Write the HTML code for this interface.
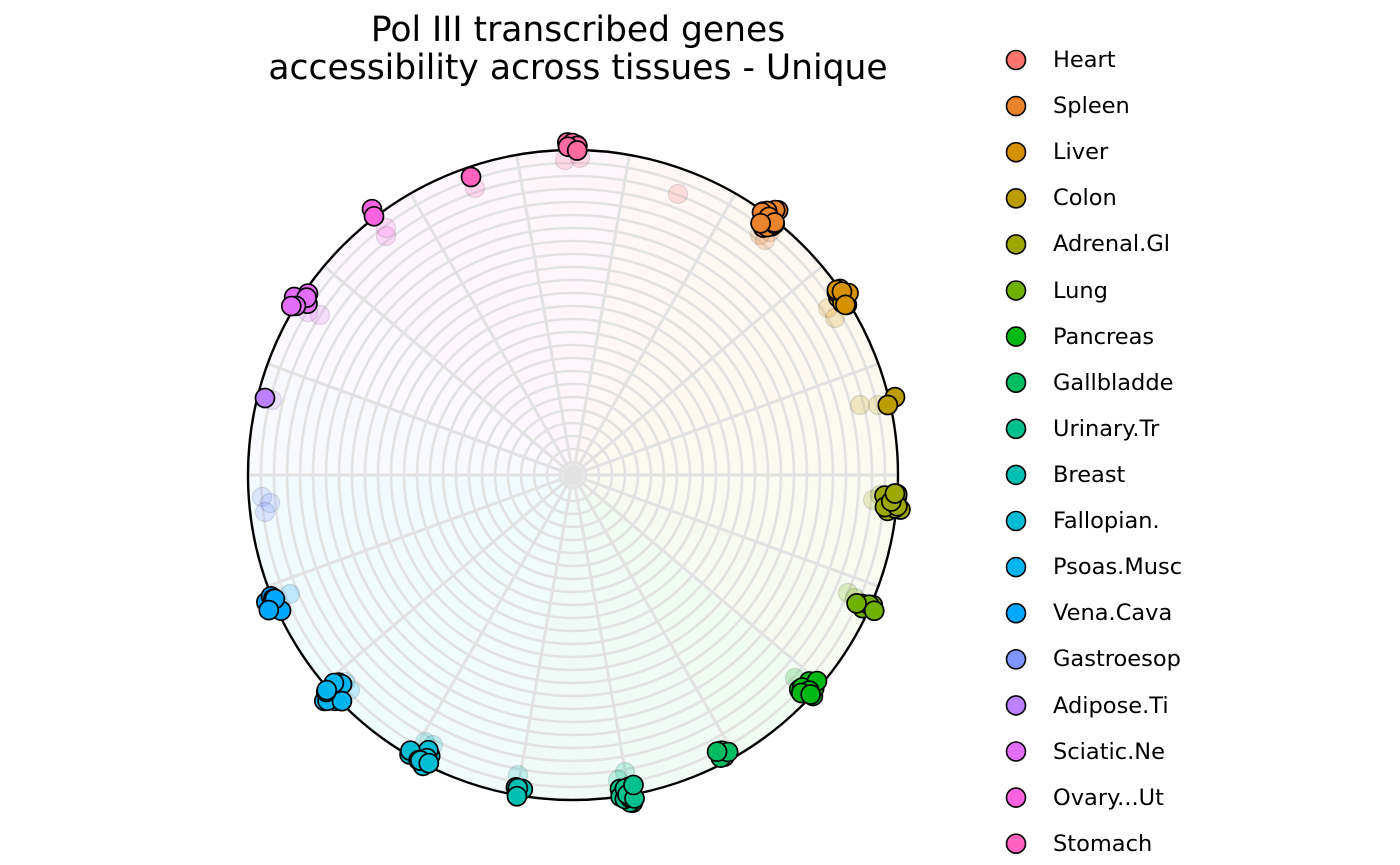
<!DOCTYPE html>
<html><head><meta charset="utf-8"><style>
body{margin:0;background:#fff;width:1400px;height:865px;overflow:hidden;font-family:"DejaVu Sans","Liberation Sans",sans-serif}
.t{position:absolute;left:578px;transform:translateX(-50%);font-size:34.5px;white-space:nowrap;color:#000;line-height:40px}
.lg{position:absolute;left:1053px;font-size:22.5px;color:#000;line-height:26px}
</style></head><body>
<div class="t" style="top:10px">Pol III transcribed genes</div>
<div class="t" style="top:48px">accessibility across tissues - Unique</div>
<svg id="s" width="1400" height="865" style="position:absolute;left:0;top:0"></svg>
<script>
const cols=["#F8766D","#E9842C","#D69100","#BC9D00","#9CA700","#6FB000","#00B813","#00BD61","#00C08E","#00C0B4","#00BDD4","#00B5EE","#00A7FF","#7F96FF","#BC81FF","#E26EF7","#F863DF","#FF62BF"];
const cx=573,cy=475,R=325;let h='';
function P(a,r){const t=(a-90)*Math.PI/180;return [cx+r*Math.cos(t),cy+r*Math.sin(t)];}
for(let i=0;i<18;i++){const a0=-10+20*i,a1=a0+20;const p0=P(a0,R),p1=P(a1,R);
h+=`<path d="M${cx},${cy}L${p0[0]},${p0[1]}A${R},${R} 0 0 1 ${p1[0]},${p1[1]}Z" fill="${cols[(i+17)%18]}" fill-opacity="0.06"/>`;}
for(let r=13;r<R;r+=13)h+=`<circle cx="${cx}" cy="${cy}" r="${r}" fill="none" stroke="#e2e2e2" stroke-width="2.6"/>`;
for(let i=0;i<18;i++){const p=P(10+20*i,R);h+=`<line x1="${cx}" y1="${cy}" x2="${p[0]}" y2="${p[1]}" stroke="#e2e2e2" stroke-width="3"/>`;}
h+=`<circle cx="${cx}" cy="${cy}" r="${R}" fill="none" stroke="#000" stroke-width="2.4"/>`;
let seed=3;function rnd(){seed=(seed*9301+49297)%233280;return seed/233280;}
const cl=[[570,147,6,"#FF6BA0",8],[471,177,1,"#FF62BF",0],[370,214,2,"#F863DF",5],[300,301,6,"#E26EF7",11],[265,398,1,"#BC81FF",0],[274,604,7,"#00A7FF",8],[333,692,12,"#00B5EE",10],[420,756,10,"#00BDD4",11],[520,792,5,"#00C0B4",6],[625,794,12,"#00C08E",10],[726,759,9,"#00BD61",9],[808,689,12,"#00B813",9],[866,602,7,"#6FB000",10],[893,502,10,"#9CA700",9],[893,402,2,"#BC9D00",6],[845,297,10,"#D69100",9],[770,220,14,"#E9842C",10]];
const fd=[[678,194,"#F8766D"],[565,160,"#FF6BA0"],[580,158,"#FF6BA0"],[475,188,"#FF62BF"],[386,236,"#F863DF"],[386,228,"#F863DF"],[320,315,"#E26EF7"],[308,312,"#E26EF7"],[272,400,"#BC81FF"],[262,497,"#7F96FF"],[270,503,"#7F96FF"],[265,512,"#7F96FF"],[290,594,"#00A7FF"],[345,682,"#00B5EE"],[350,690,"#00B5EE"],[425,742,"#00BDD4"],[433,745,"#00BDD4"],[518,775,"#00C0B4"],[625,772,"#00C08E"],[618,780,"#00C08E"],[720,750,"#00BD61"],[795,678,"#00B813"],[848,593,"#6FB000"],[855,598,"#6FB000"],[873,500,"#9CA700"],[880,495,"#9CA700"],[860,405,"#BC9D00"],[878,405,"#BC9D00"],[828,308,"#D69100"],[835,318,"#D69100"],[760,235,"#E9842C"],[765,240,"#E9842C"],[770,232,"#E9842C"]];
fd.forEach(f=>h+=`<circle cx="${f[0]}" cy="${f[1]}" r="9.5" fill="${f[2]}" fill-opacity="0.2" stroke="#000" stroke-opacity="0.12" stroke-width="1.2"/>`);
cl.forEach(c=>{for(let k=0;k<c[2];k++){const x=c[0]+(rnd()-0.5)*2*c[4],y=c[1]+(rnd()-0.5)*2*c[4];h+=`<circle cx="${x}" cy="${y}" r="9.5" fill="${c[3]}" stroke="#000" stroke-width="1.7"/>`;}});
for(let i=0;i<18;i++){const y=60+46.1*i;h+=`<circle cx="1016" cy="${y}" r="9.5" fill="${cols[i]}" stroke="#000" stroke-width="1.6"/>`;}
document.getElementById('s').innerHTML=h;
</script>
<div class="lg" style="top:47px">Heart</div>
<div class="lg" style="top:93px">Spleen</div>
<div class="lg" style="top:139px">Liver</div>
<div class="lg" style="top:185px">Colon</div>
<div class="lg" style="top:231px">Adrenal.Gl</div>
<div class="lg" style="top:278px">Lung</div>
<div class="lg" style="top:324px">Pancreas</div>
<div class="lg" style="top:370px">Gallbladde</div>
<div class="lg" style="top:416px">Urinary.Tr</div>
<div class="lg" style="top:462px">Breast</div>
<div class="lg" style="top:508px">Fallopian.</div>
<div class="lg" style="top:554px">Psoas.Musc</div>
<div class="lg" style="top:600px">Vena.Cava</div>
<div class="lg" style="top:646px">Gastroesop</div>
<div class="lg" style="top:693px">Adipose.Ti</div>
<div class="lg" style="top:739px">Sciatic.Ne</div>
<div class="lg" style="top:785px">Ovary...Ut</div>
<div class="lg" style="top:831px">Stomach</div>
</body></html>
